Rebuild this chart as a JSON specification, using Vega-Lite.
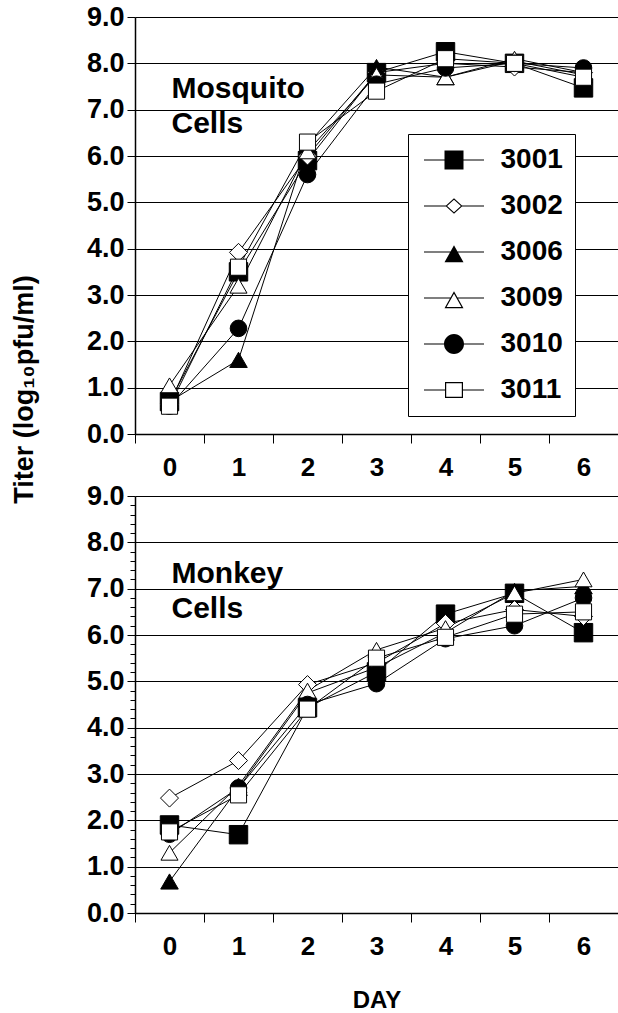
{
  "$schema": "https://vega.github.io/schema/vega-lite/v6.json",
  "padding": {"left": 10, "top": 3, "right": 0, "bottom": 0},
  "bounds": "flush",
  "spacing": 62,
  "background": "white",
  "config": {
    "font": "Liberation Sans",
    "view": {"stroke": null},
    "axis": {
      "labelFont": "Liberation Sans", "labelFontWeight": "bold", "labelColor": "black", "labelFontSize": 26,
      "tickColor": "black", "tickWidth": 1, "domainColor": "black", "domainWidth": 1.5,
      "gridColor": "black", "gridWidth": 1, "gridOpacity": 1,
      "titleFont": "Liberation Sans", "titleFontWeight": "bold", "titleColor": "black"
    },
    "legend": {
      "orient": "none", "legendX": 273, "legendY": 117, "title": null,
      "padding": 12, "strokeColor": "black", "fillColor": "white",
      "labelFont": "Liberation Sans", "labelFontWeight": "bold", "labelFontSize": 28, "labelColor": "black",
      "labelOffset": 52.5, "rowPadding": 18, "symbolSize": 400,
      "symbolFillColor": "black", "symbolStrokeWidth": 0, "zindex": 1
    }
  },
  "datasets": {
    "mosquito": [
      {"day": 0, "strain": "3001", "titer": 0.70}, {"day": 1, "strain": "3001", "titer": 3.50}, {"day": 2, "strain": "3001", "titer": 5.90}, {"day": 3, "strain": "3001", "titer": 7.80}, {"day": 4, "strain": "3001", "titer": 8.25}, {"day": 5, "strain": "3001", "titer": 8.00}, {"day": 6, "strain": "3001", "titer": 7.47},
      {"day": 0, "strain": "3002", "titer": 0.65}, {"day": 1, "strain": "3002", "titer": 3.92}, {"day": 2, "strain": "3002", "titer": 6.00}, {"day": 3, "strain": "3002", "titer": 7.80}, {"day": 4, "strain": "3002", "titer": 8.00}, {"day": 5, "strain": "3002", "titer": 7.92}, {"day": 6, "strain": "3002", "titer": 7.80},
      {"day": 0, "strain": "3006", "titer": 0.70}, {"day": 1, "strain": "3006", "titer": 1.60}, {"day": 2, "strain": "3006", "titer": 6.25}, {"day": 3, "strain": "3006", "titer": 7.92}, {"day": 4, "strain": "3006", "titer": 7.70}, {"day": 5, "strain": "3006", "titer": 8.05}, {"day": 6, "strain": "3006", "titer": 7.75},
      {"day": 0, "strain": "3009", "titer": 1.05}, {"day": 1, "strain": "3009", "titer": 3.20}, {"day": 2, "strain": "3009", "titer": 6.10}, {"day": 3, "strain": "3009", "titer": 7.75}, {"day": 4, "strain": "3009", "titer": 7.70}, {"day": 5, "strain": "3009", "titer": 8.10}, {"day": 6, "strain": "3009", "titer": 7.80},
      {"day": 0, "strain": "3010", "titer": 0.60}, {"day": 1, "strain": "3010", "titer": 2.28}, {"day": 2, "strain": "3010", "titer": 5.60}, {"day": 3, "strain": "3010", "titer": 7.55}, {"day": 4, "strain": "3010", "titer": 7.90}, {"day": 5, "strain": "3010", "titer": 8.00}, {"day": 6, "strain": "3010", "titer": 7.90},
      {"day": 0, "strain": "3011", "titer": 0.60}, {"day": 1, "strain": "3011", "titer": 3.60}, {"day": 2, "strain": "3011", "titer": 6.30}, {"day": 3, "strain": "3011", "titer": 7.40}, {"day": 4, "strain": "3011", "titer": 8.10}, {"day": 5, "strain": "3011", "titer": 8.00}, {"day": 6, "strain": "3011", "titer": 7.70}
    ],
    "monkey": [
      {"day": 0, "strain": "3001", "titer": 1.90}, {"day": 1, "strain": "3001", "titer": 1.69}, {"day": 2, "strain": "3001", "titer": 4.43}, {"day": 3, "strain": "3001", "titer": 5.20}, {"day": 4, "strain": "3001", "titer": 6.45}, {"day": 5, "strain": "3001", "titer": 6.90}, {"day": 6, "strain": "3001", "titer": 6.05},
      {"day": 0, "strain": "3002", "titer": 2.48}, {"day": 1, "strain": "3002", "titer": 3.29}, {"day": 2, "strain": "3002", "titer": 4.93}, {"day": 3, "strain": "3002", "titer": 5.40}, {"day": 4, "strain": "3002", "titer": 6.25}, {"day": 5, "strain": "3002", "titer": 6.55}, {"day": 6, "strain": "3002", "titer": 6.40},
      {"day": 0, "strain": "3006", "titer": 0.68}, {"day": 1, "strain": "3006", "titer": 2.70}, {"day": 2, "strain": "3006", "titer": 4.75}, {"day": 3, "strain": "3006", "titer": 5.30}, {"day": 4, "strain": "3006", "titer": 6.05}, {"day": 5, "strain": "3006", "titer": 6.95}, {"day": 6, "strain": "3006", "titer": 7.05},
      {"day": 0, "strain": "3009", "titer": 1.30}, {"day": 1, "strain": "3009", "titer": 2.75}, {"day": 2, "strain": "3009", "titer": 4.80}, {"day": 3, "strain": "3009", "titer": 5.68}, {"day": 4, "strain": "3009", "titer": 6.15}, {"day": 5, "strain": "3009", "titer": 6.90}, {"day": 6, "strain": "3009", "titer": 7.20},
      {"day": 0, "strain": "3010", "titer": 1.70}, {"day": 1, "strain": "3010", "titer": 2.70}, {"day": 2, "strain": "3010", "titer": 4.50}, {"day": 3, "strain": "3010", "titer": 4.95}, {"day": 4, "strain": "3010", "titer": 5.92}, {"day": 5, "strain": "3010", "titer": 6.20}, {"day": 6, "strain": "3010", "titer": 6.80},
      {"day": 0, "strain": "3011", "titer": 1.75}, {"day": 1, "strain": "3011", "titer": 2.55}, {"day": 2, "strain": "3011", "titer": 4.40}, {"day": 3, "strain": "3011", "titer": 5.50}, {"day": 4, "strain": "3011", "titer": 5.95}, {"day": 5, "strain": "3011", "titer": 6.45}, {"day": 6, "strain": "3011", "titer": 6.50}
    ]
  },
  "resolve": {
    "scale": {"shape": "independent", "fill": "independent", "size": "independent"},
    "legend": {"shape": "independent", "fill": "independent", "size": "independent"}
  },
  "vconcat": [
    {
      "width": 483, "height": 417,
      "resolve": {"scale": {"shape": "independent"}},
      "layer": [
        {
          "data": {"name": "mosquito"},
          "mark": {"type": "line", "color": "black", "strokeWidth": 1},
          "encoding": {
            "x": {"field": "day", "type": "ordinal", "scale": {"paddingInner": 0, "paddingOuter": 0},
                  "axis": {"title": null, "labelAngle": 0, "tickBand": "extent", "tickSize": 9, "labelPadding": 11, "grid": false}},
            "y": {"field": "titer", "type": "quantitative", "scale": {"domain": [0, 9], "nice": false},
                  "axis": {"values": [0, 1, 2, 3, 4, 5, 6, 7, 8, 9], "format": ".1f", "labelFontSize": 27, "tickSize": 8, "labelPadding": 3, "grid": true,
                           "title": "Titer (log₁₀pfu/ml)", "titleFontSize": 27, "titleAngle": -90, "titleX": -103, "titleY": 372,
                           "titleAlign": "center", "titleBaseline": "alphabetic"}},
            "detail": {"field": "strain"}
          }
        },
        {
          "data": {"name": "mosquito"},
          "mark": {"type": "point", "stroke": "black", "strokeWidth": 1, "opacity": 1, "fillOpacity": 1},
          "encoding": {
            "x": {"field": "day", "type": "ordinal"},
            "y": {"field": "titer", "type": "quantitative"},
            "shape": {"field": "strain", "type": "nominal", "legend": null,
                      "scale": {"range": ["square", "diamond", "triangle-up", "triangle-up", "circle", "square"]}},
            "fill": {"field": "strain", "type": "nominal", "legend": null, "scale": {"range": ["black", "white", "black", "white", "black", "white"]}},
            "size": {"field": "strain", "type": "nominal", "legend": null, "scale": {"range": [340, 260, 340, 340, 400, 360]}}
          }
        },
        {
          "data": {"name": "mosquito"},
          "mark": {"type": "point", "size": 0, "filled": true, "fill": "black", "opacity": 1},
          "encoding": {
            "x": {"field": "day", "type": "ordinal"},
            "y": {"field": "titer", "type": "quantitative"},
            "shape": {"field": "strain", "type": "nominal",
                      "scale": {"range": [
                        "M-1,-0.05H5V0.05H-1Z M1.05,-0.95H2.95V0.95H1.05Z",
                        "M-1,-0.05H1.2V0.05H-1Z M2.8,-0.05H5V0.05H2.8Z M1.15,0L2,-0.78L2.85,0L2,0.78Z M1.31,0L2,0.62L2.69,0L2,-0.62Z",
                        "M-1,-0.05H5V0.05H-1Z M2,-0.67L2.95,1.03H1.05Z",
                        "M-1,-0.05H1.7V0.05H-1Z M2.3,-0.05H5V0.05H2.3Z M2,-0.67L2.95,1.03H1.05Z M2,-0.424L1.255,0.91H2.745Z",
                        "M-1,-0.05H5V0.05H-1Z M1,0A1,1,0,1,1,3,0A1,1,0,1,1,1,0Z",
                        "M-1,-0.05H1.16V0.05H-1Z M2.84,-0.05H5V0.05H2.84Z M1.1,-0.8H2.9V0.8H1.1Z M1.22,-0.68V0.68H2.78V-0.68Z"]}}
          }
        },
        {
          "data": {"values": [{"label": "Mosquito", "titer": 7.44}, {"label": "Cells", "titer": 6.70}]},
          "mark": {"type": "text", "align": "left", "baseline": "middle", "dx": 2, "font": "Liberation Sans", "fontWeight": "bold", "fontSize": 30, "color": "black"},
          "encoding": {
            "x": {"datum": 0, "type": "ordinal"},
            "y": {"field": "titer", "type": "quantitative"},
            "text": {"field": "label"}
          }
        }
      ]
    },
    {
      "width": 483, "height": 417,
      "resolve": {"axis": {"y": "independent"}},
      "layer": [
        {
          "data": {"name": "monkey"},
          "mark": {"type": "line", "color": "black", "strokeWidth": 1},
          "encoding": {
            "x": {"field": "day", "type": "ordinal", "scale": {"paddingInner": 0, "paddingOuter": 0},
                  "axis": {"title": "DAY", "titleFontSize": 24, "titlePadding": 29, "labelAngle": 0, "tickBand": "extent", "tickSize": 9, "labelPadding": 11, "grid": false}},
            "y": {"field": "titer", "type": "quantitative", "scale": {"domain": [0, 9], "nice": false},
                  "axis": {"values": [0, 1, 2, 3, 4, 5, 6, 7, 8, 9], "format": ".1f", "labelFontSize": 27, "tickSize": 8, "labelPadding": 3, "grid": true, "title": null}},
            "detail": {"field": "strain"}
          }
        },
        {
          "data": {"name": "monkey"},
          "mark": {"type": "point", "stroke": "black", "strokeWidth": 1, "opacity": 1, "fillOpacity": 1},
          "encoding": {
            "x": {"field": "day", "type": "ordinal"},
            "y": {"field": "titer", "type": "quantitative",
                  "axis": {"orient": "left", "values": [0.2, 0.4, 0.6, 0.8, 1.2, 1.4, 1.6, 1.8, 2.2, 2.4, 2.6, 2.8, 3.2, 3.4, 3.6, 3.8, 4.2, 4.4, 4.6, 4.8, 5.2, 5.4, 5.6, 5.8, 6.2, 6.4, 6.6, 6.8, 7.2, 7.4, 7.6, 7.8, 8.2, 8.4, 8.6, 8.8],
                           "labels": false, "grid": false, "domain": false, "tickSize": 5, "title": null}},
            "shape": {"field": "strain", "type": "nominal", "legend": null,
                      "scale": {"range": ["square", "diamond", "triangle-up", "triangle-up", "circle", "square"]}},
            "fill": {"field": "strain", "type": "nominal", "legend": null, "scale": {"range": ["black", "white", "black", "white", "black", "white"]}},
            "size": {"field": "strain", "type": "nominal", "legend": null, "scale": {"range": [340, 260, 340, 340, 400, 360]}}
          }
        },
        {
          "data": {"values": [{"label": "Monkey", "titer": 7.31}, {"label": "Cells", "titer": 6.57}]},
          "mark": {"type": "text", "align": "left", "baseline": "middle", "dx": 2, "font": "Liberation Sans", "fontWeight": "bold", "fontSize": 30, "color": "black"},
          "encoding": {
            "x": {"datum": 0, "type": "ordinal"},
            "y": {"field": "titer", "type": "quantitative", "axis": null},
            "text": {"field": "label"}
          }
        }
      ]
    }
  ]
}
